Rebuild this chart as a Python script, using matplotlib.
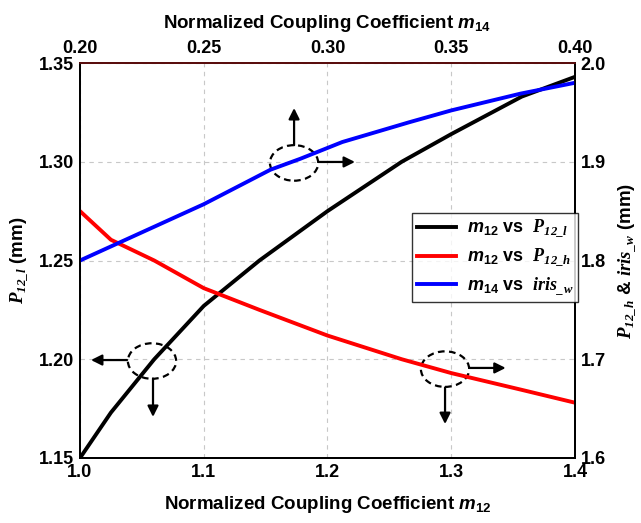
import matplotlib
matplotlib.use("Agg")
import matplotlib.pyplot as plt
from matplotlib.patches import Ellipse

# ---- data ----
m12 = [1.00, 1.025, 1.06, 1.10, 1.145, 1.20, 1.26, 1.30, 1.357, 1.40]
p12_l = [1.150, 1.173, 1.200, 1.227, 1.250, 1.275, 1.300, 1.314, 1.333, 1.343]
p12_h = [1.850, 1.821, 1.800, 1.772, 1.750, 1.724, 1.700, 1.686, 1.669, 1.656]

m14 = [0.200, 0.250, 0.277, 0.289, 0.306, 0.333, 0.350, 0.378, 0.400]
iris_w = [1.800, 1.857, 1.892, 1.903, 1.920, 1.940, 1.952, 1.969, 1.980]

bottom_ticks = [1.0, 1.1, 1.2, 1.3, 1.4]
top_ticks = [0.20, 0.25, 0.30, 0.35, 0.40]
left_ticks = [1.15, 1.20, 1.25, 1.30, 1.35]
right_ticks = [1.6, 1.7, 1.8, 1.9, 2.0]

plt.rcParams["font.family"] = ["Liberation Sans", "DejaVu Sans"]
plt.rcParams["font.weight"] = "bold"
plt.rcParams["axes.labelweight"] = "bold"
plt.rcParams["mathtext.fontset"] = "custom"
plt.rcParams["mathtext.it"] = "Liberation Sans:italic:bold"
plt.rcParams["mathtext.rm"] = "Liberation Sans:bold"
plt.rcParams["mathtext.bf"] = "Liberation Serif:italic:bold"

fig = plt.figure(figsize=(6.41, 5.23), dpi=100)
ax = fig.add_axes([0.1248, 0.1243, 0.7722, 0.7552])
ax_r = ax.twinx()
ax_t = ax_r.twiny()

l1, = ax.plot(m12, p12_l, color="black", lw=2.8)
l2, = ax_r.plot(m12, p12_h, color="#ff0000", lw=2.8)
l3, = ax_t.plot(m14, iris_w, color="#0000ff", lw=2.8)

ax.set_xlim(1.0, 1.4)
ax.set_ylim(1.15, 1.35)
ax_r.set_ylim(1.6, 2.0)
ax_t.set_xlim(0.20, 0.40)

ax.set_xticks(bottom_ticks)
ax.set_xticklabels([f"{v:.1f}" for v in bottom_ticks])
ax.set_yticks(left_ticks)
ax.set_yticklabels([f"{v:.2f}" for v in left_ticks])
ax_r.set_yticks(right_ticks)
ax_r.set_yticklabels([f"{v:.1f}" for v in right_ticks])
ax_t.set_xticks(top_ticks)
ax_t.set_xticklabels([f"{v:.2f}" for v in top_ticks])

for a in (ax, ax_r, ax_t):
    a.tick_params(labelsize=13, length=0, pad=4)
    for s in a.spines.values():
        s.set_linewidth(1.2)
ax_t.spines["top"].set_color("#6b1010")

ax.grid(True, ls=(0, (4, 4)), color="#c8c8c8", lw=0.8)

ax.set_xlabel("Normalized Coupling Coefficient $m_{\\mathit{12}}$", fontsize=13.5, labelpad=10)
ax_t.set_xlabel("Normalized Coupling Coefficient $m_{\\mathit{14}}$", fontsize=13.5, labelpad=9)
ax.set_ylabel("$\\mathbf{P}_{\\mathbf{12\\_l}}$ (mm)", fontsize=13.5, labelpad=6)
ax_r.set_ylabel("$\\mathbf{P}_{\\mathbf{12\\_h}}$ & $\\mathbf{iris}_{\\mathbf{\\_w}}$ (mm)",
                fontsize=13.5, rotation=90, labelpad=8)

leg = ax_t.legend([l1, l2, l3],
                  ["$m_{\\mathit{12}}$ vs  $\\mathbf{P}_{\\mathbf{12\\_l}}$",
                   "$m_{\\mathit{12}}$ vs  $\\mathbf{P}_{\\mathbf{12\\_h}}$",
                   "$m_{\\mathit{14}}$ vs  $\\mathbf{iris}_{\\mathbf{\\_w}}$"],
                  loc="upper left", bbox_to_anchor=(0.671, 0.62), fontsize=13,
                  frameon=True, fancybox=False, handlelength=2.2, borderpad=0.25,
                  labelspacing=0.35, handletextpad=0.6, borderaxespad=0)
leg.get_frame().set_edgecolor("black")
leg.get_frame().set_linewidth(1.0)

# dashed ellipses with direction arrows (in left-axis data coords)
arrow = dict(arrowstyle="-|>", lw=1.6, color="black", mutation_scale=16, shrinkA=0, shrinkB=0)
ellipses = [(1.173, 1.2994), (1.0582, 1.1991), (1.295, 1.195)]
for cx, cy in ellipses:
    ax.add_patch(Ellipse((cx, cy), 0.039, 0.018, fill=False, ls=(0, (3, 2)),
                         lw=1.6, ec="black", zorder=5))

ax.annotate("", xy=(1.173, 1.3272), xytext=(1.173, 1.3084), arrowprops=arrow)
ax.annotate("", xy=(1.2222, 1.2999), xytext=(1.1925, 1.2999), arrowprops=arrow)
ax.annotate("", xy=(1.0089, 1.1996), xytext=(1.038, 1.1996), arrowprops=arrow)
ax.annotate("", xy=(1.059, 1.1708), xytext=(1.059, 1.1902), arrowprops=arrow)
ax.annotate("", xy=(1.344, 1.1956), xytext=(1.3145, 1.1956), arrowprops=arrow)
ax.annotate("", xy=(1.295, 1.1672), xytext=(1.295, 1.1857), arrowprops=arrow)

fig.savefig("out.png", dpi=100)
